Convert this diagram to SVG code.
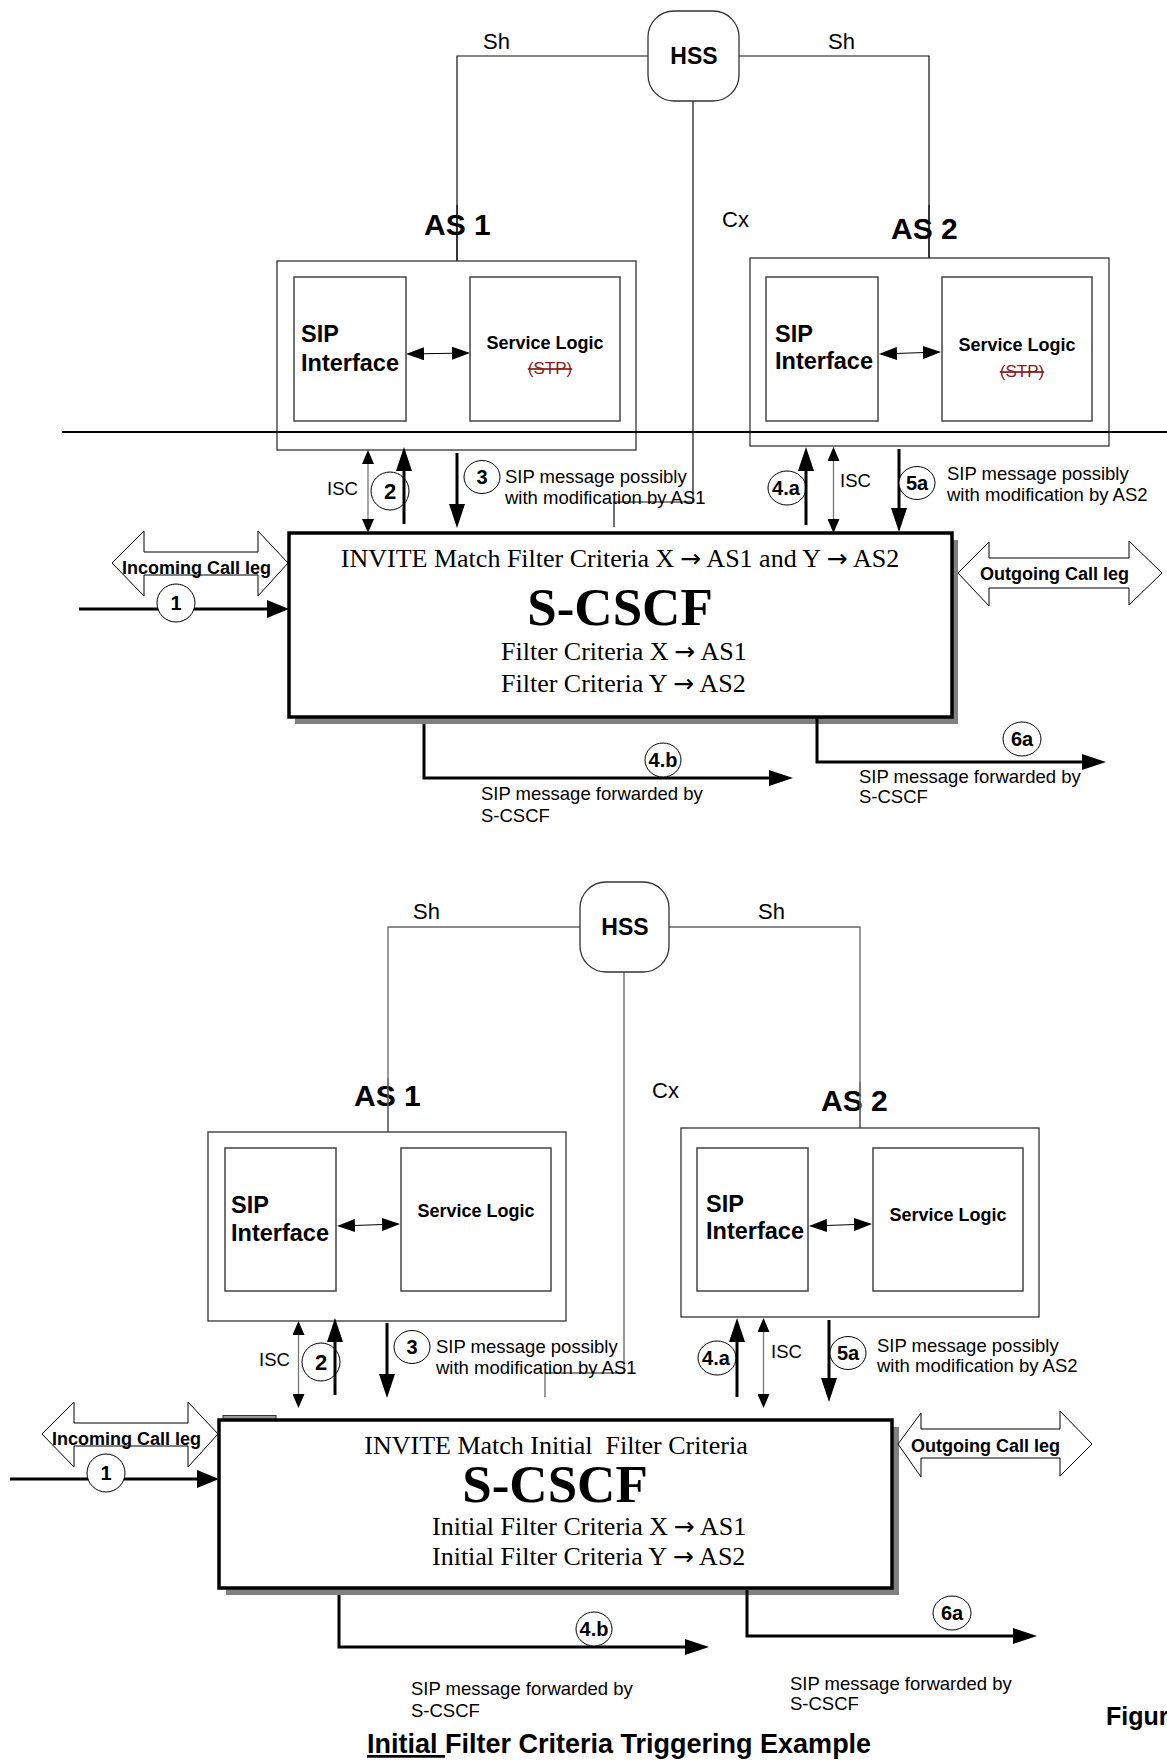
<svg xmlns="http://www.w3.org/2000/svg" width="1167" height="1762" viewBox="0 0 1167 1762">
<defs>
<style>
.sans{font-family:"Liberation Sans",Arial,sans-serif}
.serif{font-family:"Liberation Serif","Times New Roman",serif}
.lbl{font-family:"Liberation Sans",Arial,sans-serif;font-size:18.5px;fill:#000}
.if{font-family:"Liberation Sans",Arial,sans-serif;font-size:22px;fill:#000}
.as{font-family:"Liberation Sans",Arial,sans-serif;font-size:30px;font-weight:bold}
.hss{font-family:"Liberation Sans",Arial,sans-serif;font-size:23px;font-weight:bold;text-anchor:middle}
.sip{font-family:"Liberation Sans",Arial,sans-serif;font-size:23.5px;font-weight:bold}
.sl{font-family:"Liberation Sans",Arial,sans-serif;font-size:18px;font-weight:bold;text-anchor:middle}
.stp{font-family:"Liberation Sans",Arial,sans-serif;font-size:17px;fill:#8b1a1a;text-anchor:middle;text-decoration:line-through}
.leg{font-family:"Liberation Sans",Arial,sans-serif;font-size:18px;font-weight:bold}
.num{font-family:"Liberation Sans",Arial,sans-serif;font-size:20px;font-weight:bold;text-anchor:middle}
.crit{font-family:"Liberation Serif","Times New Roman",serif;font-size:26px}
.arr{font-family:"DejaVu Sans",sans-serif;font-size:25px}
.big{font-family:"Liberation Serif","Times New Roman",serif;font-size:53px;font-weight:bold;text-anchor:middle}
.outer{fill:#fff;stroke:#333;stroke-width:1.3}
.inner{fill:#fff;stroke:#444;stroke-width:1.5}
.hssbox{fill:#fff;stroke:#333;stroke-width:1.3}
.wire{fill:none;stroke:#111;stroke-width:1.2}
.wire2{fill:none;stroke:#666;stroke-width:1.3}
.thick{fill:none;stroke:#000;stroke-width:3}
.isc{fill:none;stroke:#777;stroke-width:1.3}
.thin{fill:none;stroke:#000;stroke-width:1.2}
.circ{fill:#fff;stroke:#000;stroke-width:1}
.legshape{fill:#fff;stroke:#000;stroke-width:1}
.cscf{fill:#fff;stroke:#000;stroke-width:3.5}
.shadow{fill:#808080}
</style>
<marker id="ah" viewBox="0 0 24 16" markerWidth="24" markerHeight="16" refX="16" refY="8" orient="auto" markerUnits="userSpaceOnUse"><path d="M0,0 L24,8 L0,16 z" fill="#000"/></marker>
<marker id="ahbig" viewBox="0 0 22 18" markerWidth="22" markerHeight="18" refX="16" refY="9" orient="auto" markerUnits="userSpaceOnUse"><path d="M0,0 L22,9 L0,18 z" fill="#000"/></marker>
<marker id="ahs" viewBox="0 0 14 12" markerWidth="14" markerHeight="12" refX="12" refY="6" orient="auto-start-reverse" markerUnits="userSpaceOnUse"><path d="M0,0 L14,6 L0,12 z" fill="#000"/></marker>
<marker id="ahi" viewBox="0 0 18 13" markerWidth="18" markerHeight="13" refX="16" refY="6.5" orient="auto-start-reverse" markerUnits="userSpaceOnUse"><path d="M0,0 L18,6.5 L0,13 z" fill="#000"/></marker>
</defs>
<rect width="1167" height="1762" fill="#fff"/>

<!-- ===== TOP DIAGRAM ===== -->
<g id="connectors-top">
<path class="wire" d="M648,56 H457 V261"/>
<path class="wire" d="M739,56 H929 V258"/>
<path class="wire" d="M693,101 V502 H614 V527"/>
</g>

<g id="hss-top">
<rect class="hssbox" x="648" y="11" width="91" height="90" rx="26"/>
<text class="hss" x="694" y="64">HSS</text>
</g>
<g id="labels-top-if">
<text class="if" x="483" y="49">Sh</text>
<text class="if" x="828" y="49">Sh</text>
<text class="if" x="722" y="227">Cx</text>
</g>

<g id="as1-top">
<text class="as" x="424" y="235">AS 1</text>
<line x1="457" y1="205" x2="457" y2="261" stroke="#111" stroke-width="1.2"/>
<rect class="outer" x="277" y="261" width="359" height="189"/>
<rect class="inner" x="294" y="277" width="112" height="144"/>
<rect class="inner" x="470" y="277" width="150" height="144"/>
<text class="sip" x="301" y="342">SIP</text>
<text class="sip" x="301" y="371">Interface</text>
<text class="sl" x="545" y="349">Service Logic</text>
<text class="stp" x="550" y="374">(STP)</text>
<path class="thin" d="M408,354 L468,353" marker-start="url(#ahi)" marker-end="url(#ahi)"/>
</g>

<g id="as2-top">
<text class="as" x="891" y="239">AS 2</text>
<line x1="929" y1="205" x2="929" y2="258" stroke="#111" stroke-width="1.2"/>
<rect class="outer" x="750" y="258" width="359" height="188"/>
<rect class="inner" x="766" y="277" width="112" height="144"/>
<rect class="inner" x="942" y="277" width="150" height="144"/>
<text class="sip" x="775" y="342">SIP</text>
<text class="sip" x="775" y="369">Interface</text>
<text class="sl" x="1017" y="351">Service Logic</text>
<text class="stp" x="1022" y="377">(STP)</text>
<path class="thin" d="M881,354 L939,352" marker-start="url(#ahi)" marker-end="url(#ahi)"/>
</g>

<g id="boundary-line">
<line x1="62" y1="432" x2="1167" y2="432" stroke="#000" stroke-width="2.2"/>
</g>

<g id="scscf-top">
<rect class="shadow" x="295" y="540" width="663" height="184"/>
<rect class="cscf" x="289" y="533" width="663" height="184"/>
<text class="crit" x="620" y="567" text-anchor="middle">INVITE Match Filter Criteria X<tspan class="arr" dx="5.5">→</tspan><tspan dx="5.5">AS1 and Y</tspan><tspan class="arr" dx="5.5">→</tspan><tspan dx="5.5">AS2</tspan></text>
<text class="big" x="620" y="625">S-CSCF</text>
<text class="crit" x="501" y="660">Filter Criteria X<tspan class="arr" dx="5.5">→</tspan><tspan dx="5.5">AS1</tspan></text>
<text class="crit" x="501" y="692">Filter Criteria Y<tspan class="arr" dx="5.5">→</tspan><tspan dx="5.5">AS2</tspan></text>
</g>

<g id="legs-top">
<polygon class="legshape" points="112,563 144,531 144,552 258,552 258,531 288,563 258,596 258,575 144,575 144,596"/>
<text class="leg" x="122" y="574">Incoming Call leg</text>
<polygon class="legshape" points="958,573 989,542 989,558 1129,558 1129,541 1162,573 1129,605 1129,588 989,588 989,606"/>
<text class="leg" x="980" y="580">Outgoing Call leg</text>
</g>

<g id="flow-top">
<path class="thick" d="M79,609 H283" marker-end="url(#ahbig)"/>
<ellipse class="circ" cx="176" cy="603" rx="19" ry="19"/>
<text class="num" x="176" y="610">1</text>

<path class="isc" d="M368,452 V531" marker-start="url(#ahs)" marker-end="url(#ahs)"/>
<text class="lbl" x="327" y="495">ISC</text>
<ellipse class="circ" cx="390" cy="491" rx="19" ry="19"/>
<text class="num" x="390" y="499" style="font-size:22px">2</text>
<path class="thick" d="M404,524 V455" marker-end="url(#ah)"/>

<path class="thick" d="M457,453 V520" marker-end="url(#ah)"/>
<ellipse class="circ" cx="482" cy="477" rx="18" ry="16.5"/>
<text class="num" x="482" y="484">3</text>
<text class="lbl" x="505" y="483">SIP message possibly</text>
<text class="lbl" x="505" y="504">with modification by AS1</text>

<ellipse class="circ" cx="787" cy="488" rx="19" ry="17"/>
<text class="num" x="786" y="495">4.a</text>
<path class="thick" d="M806,525 V455" marker-end="url(#ah)"/>
<path class="isc" d="M833.5,449 V531" marker-start="url(#ahs)" marker-end="url(#ahs)"/>
<text class="lbl" x="840" y="487">ISC</text>
<path class="thick" d="M899,449 V524" marker-end="url(#ah)"/>
<ellipse class="circ" cx="917" cy="483" rx="18" ry="16.5"/>
<text class="num" x="917" y="490">5a</text>
<text class="lbl" x="947" y="480">SIP message possibly</text>
<text class="lbl" x="947" y="501">with modification by AS2</text>

<path class="thick" d="M424,724 V778 H785" marker-end="url(#ah)"/>
<ellipse class="circ" cx="663" cy="760" rx="18" ry="17"/>
<text class="num" x="663" y="767">4.b</text>
<text class="lbl" x="481" y="800">SIP message forwarded by</text>
<text class="lbl" x="481" y="822">S-CSCF</text>

<path class="thick" d="M817,717 V762 H1098" marker-end="url(#ah)"/>
<ellipse class="circ" cx="1022" cy="739" rx="19" ry="17"/>
<text class="num" x="1022" y="746">6a</text>
<text class="lbl" x="859" y="783">SIP message forwarded by</text>
<text class="lbl" x="859" y="803">S-CSCF</text>
</g>

<!-- ===== BOTTOM DIAGRAM ===== -->
<g id="connectors-bottom">
<path class="wire2" d="M580,927 H388 V1132"/>
<path class="wire2" d="M669,927 H860 V1128"/>
<path class="wire2" d="M624,972 V1373 H545 V1397"/>
</g>

<g id="hss-bottom">
<rect class="hssbox" x="580" y="882" width="89" height="90" rx="26"/>
<text class="hss" x="625" y="935">HSS</text>
</g>
<g id="labels-bottom-if">
<text class="if" x="413" y="919">Sh</text>
<text class="if" x="758" y="919">Sh</text>
<text class="if" x="652" y="1098">Cx</text>
</g>

<g id="as1-bottom">
<text class="as" x="354" y="1106">AS 1</text>
<line x1="388" y1="1078" x2="388" y2="1132" stroke="#666" stroke-width="1.3"/>
<rect class="outer" x="208" y="1132" width="358" height="189"/>
<rect class="inner" x="225" y="1148" width="111" height="143"/>
<rect class="inner" x="401" y="1148" width="150" height="143"/>
<text class="sip" x="231" y="1213">SIP</text>
<text class="sip" x="231" y="1241">Interface</text>
<text class="sl" x="476" y="1217">Service Logic</text>
<path class="thin" d="M339,1226 L398,1224" marker-start="url(#ahi)" marker-end="url(#ahi)"/>
</g>

<g id="as2-bottom">
<text class="as" x="821" y="1111">AS 2</text>
<line x1="860" y1="1082" x2="860" y2="1128" stroke="#666" stroke-width="1.3"/>
<rect class="outer" x="681" y="1128" width="358" height="189"/>
<rect class="inner" x="697" y="1148" width="111" height="143"/>
<rect class="inner" x="873" y="1148" width="150" height="143"/>
<text class="sip" x="706" y="1212">SIP</text>
<text class="sip" x="706" y="1239">Interface</text>
<text class="sl" x="948" y="1221">Service Logic</text>
<path class="thin" d="M811,1226 L870,1224" marker-start="url(#ahi)" marker-end="url(#ahi)"/>
</g>

<g id="scscf-bottom">
<rect x="223" y="1415.5" width="53" height="4" fill="#999" stroke="#333" stroke-width="1"/>
<rect class="shadow" x="226" y="1427" width="673" height="168"/>
<rect class="cscf" x="219" y="1420" width="673" height="168"/>
<text class="crit" x="556" y="1454" text-anchor="middle" xml:space="preserve">INVITE Match Initial  Filter Criteria</text>
<text class="big" x="555" y="1502">S-CSCF</text>
<text class="crit" x="432" y="1535">Initial Filter Criteria X<tspan class="arr" dx="5.5">→</tspan><tspan dx="5.5">AS1</tspan></text>
<text class="crit" x="432" y="1565">Initial Filter Criteria Y<tspan class="arr" dx="5.5">→</tspan><tspan dx="5.5">AS2</tspan></text>
</g>

<g id="legs-bottom">
<polygon class="legshape" points="42,1434 74,1402 74,1423 188,1423 188,1402 218,1434 188,1467 188,1446 74,1446 74,1467"/>
<text class="leg" x="52" y="1445">Incoming Call leg</text>
<polygon class="legshape" points="898,1444 921,1413 921,1429 1060,1429 1060,1411 1092,1444 1060,1476 1060,1458 921,1458 921,1477"/>
<text class="leg" x="911" y="1452">Outgoing Call leg</text>
</g>

<g id="flow-bottom">
<path class="thick" d="M10,1479 H213" marker-end="url(#ahbig)"/>
<ellipse class="circ" cx="106" cy="1473" rx="19" ry="19"/>
<text class="num" x="106" y="1480">1</text>

<path class="isc" d="M298.5,1323 V1406" marker-start="url(#ahs)" marker-end="url(#ahs)"/>
<text class="lbl" x="259" y="1366">ISC</text>
<ellipse class="circ" cx="321" cy="1362" rx="19" ry="19"/>
<text class="num" x="321" y="1370" style="font-size:22px">2</text>
<path class="thick" d="M335,1395 V1326" marker-end="url(#ah)"/>

<path class="thick" d="M387,1323 V1390" marker-end="url(#ah)"/>
<ellipse class="circ" cx="412" cy="1347" rx="18" ry="16.5"/>
<text class="num" x="412" y="1354">3</text>
<text class="lbl" x="436" y="1353">SIP message possibly</text>
<text class="lbl" x="436" y="1374">with modification by AS1</text>

<ellipse class="circ" cx="717" cy="1358" rx="19" ry="17"/>
<text class="num" x="716" y="1365">4.a</text>
<path class="thick" d="M737,1397 V1326" marker-end="url(#ah)"/>
<path class="isc" d="M763.5,1320 V1406" marker-start="url(#ahs)" marker-end="url(#ahs)"/>
<text class="lbl" x="771" y="1358">ISC</text>
<path class="thick" d="M829,1320 V1394" marker-end="url(#ah)"/>
<ellipse class="circ" cx="848" cy="1353" rx="18" ry="16.5"/>
<text class="num" x="848" y="1360">5a</text>
<text class="lbl" x="877" y="1352">SIP message possibly</text>
<text class="lbl" x="877" y="1372">with modification by AS2</text>

<path class="thick" d="M339,1595 V1647 H701" marker-end="url(#ah)"/>
<ellipse class="circ" cx="594" cy="1629" rx="18" ry="17"/>
<text class="num" x="594" y="1636">4.b</text>
<text class="lbl" x="411" y="1695">SIP message forwarded by</text>
<text class="lbl" x="411" y="1717">S-CSCF</text>

<path class="thick" d="M747,1590 V1636 H1029" marker-end="url(#ah)"/>
<ellipse class="circ" cx="952" cy="1613" rx="19" ry="17"/>
<text class="num" x="952" y="1620">6a</text>
<text class="lbl" x="790" y="1690">SIP message forwarded by</text>
<text class="lbl" x="790" y="1710">S-CSCF</text>
</g>

<g id="caption">
<text class="sans" x="367" y="1753" style="font-size:27px;font-weight:bold"><tspan text-decoration="underline">Initial </tspan>Filter Criteria Triggering Example</text>
<text class="sans" x="1106" y="1725" style="font-size:25px;font-weight:bold">Figur</text>
</g>
</svg>
